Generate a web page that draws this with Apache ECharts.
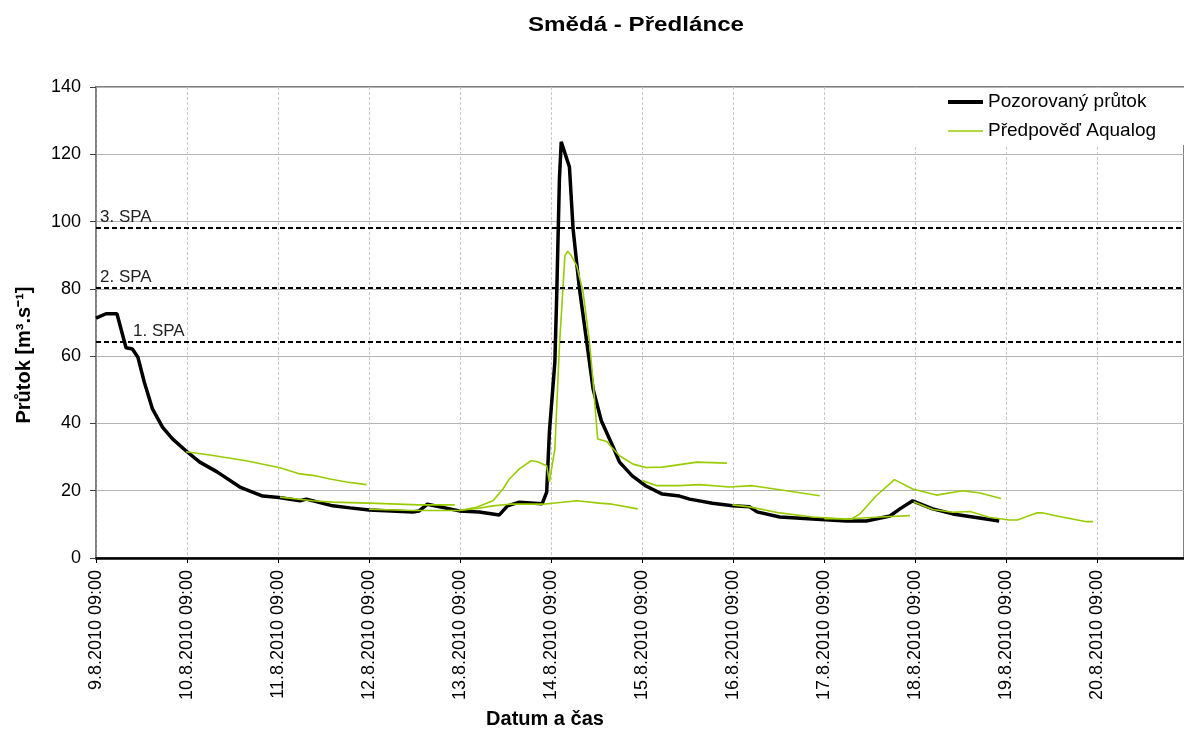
<!DOCTYPE html>
<html>
<head>
<meta charset="utf-8">
<script src="https://cdn.jsdelivr.net/npm/echarts@6/dist/echarts.min.js"></script>
<style>
html,body{margin:0;padding:0;background:#fff;}
#c{width:1184px;height:733px;}
</style>
</head>
<body>
<div id="c"></div>
<script>
// ---- texts ----
const titleText = 'Smědá - Předlánce';
const yAxisTitle = 'Průtok [m³.s⁻¹]';
const xAxisTitle = 'Datum a čas';
const seriesNames = ['Pozorovaný průtok', 'Předpověď Aqualog'];

// ---- x tick labels (one per day, x = days since 9.8.2010 09:00) ----
const dayLabels = ['9.8.2010 09:00','10.8.2010 09:00','11.8.2010 09:00','12.8.2010 09:00',
  '13.8.2010 09:00','14.8.2010 09:00','15.8.2010 09:00','16.8.2010 09:00',
  '17.8.2010 09:00','18.8.2010 09:00','19.8.2010 09:00','20.8.2010 09:00'];

// ---- observed discharge ----
const obsDays = [0.00,0.11,0.23,0.33,0.40,0.46,0.53,0.62,0.73,0.84,
  0.99,1.14,1.33,1.58,1.83,2.01,2.24,2.31,2.60,2.79,
  3.00,3.48,3.55,3.64,3.99,4.21,4.43,4.52,4.65,4.90,
  4.95,4.96,4.98,5.04,5.06,5.09,5.11,5.13,5.20,5.24,
  5.31,5.39,5.46,5.55,5.68,5.75,5.89,6.04,6.22,6.41,
  6.52,6.77,6.99,7.18,7.26,7.51,7.87,8.24,8.46,8.72,
  8.83,8.97,9.19,9.41,9.63,9.92];
const obsFlow = [71.3,72.6,72.6,62.5,62.1,59.7,52.3,44.3,38.9,35.4,
  31.8,28.5,25.6,21.1,18.4,18.0,17.0,17.5,15.5,14.9,
  14.3,13.7,14.0,16.0,14.0,13.7,12.8,15.5,16.6,16.1,
  19.6,25.6,37.5,58.3,77.9,112.7,123.7,123.7,116.2,97.8,
  80.0,64.2,50.2,40.8,33.0,28.5,24.4,21.4,19.0,18.4,
  17.5,16.3,15.5,15.2,13.7,12.2,11.6,11.0,11.0,12.5,
  14.6,17.0,14.6,13.1,12.2,11.0];

// ---- Aqualog forecast runs [day, flow] ----
const fcRun1 = [[0.99,31.6],[1.25,30.6],[1.65,28.9],[2.02,26.8],[2.24,25.0],[2.42,24.4],[2.57,23.5],[2.75,22.6],[2.97,21.8]];
const fcRun2 = [[2.02,18.1],[2.38,17.0],[2.60,16.6],[3.00,16.3],[3.55,15.8],[3.94,15.8]];
const fcRun3 = [[3.00,14.5],[3.48,14.1],[3.99,14.1],[4.18,15.1],[4.36,17.0],[4.47,20.5],[4.54,23.5],[4.65,26.5],[4.78,28.9],[4.85,28.6],[4.95,27.4],[4.98,22.6]];
const fcRun4 = [[3.99,14.1],[4.20,14.8],[4.36,15.5],[4.54,16.0],[4.91,16.0],[5.28,17.0],[5.53,16.3],[5.67,16.0],[5.95,14.6]];
const fcRun5 = [[4.98,22.6],[5.04,32.4],[5.09,63.0],[5.15,89.8],[5.18,91.2],[5.22,89.9],[5.28,86.9],[5.35,79.0],[5.42,64.2],[5.46,52.3],[5.51,35.4],[5.61,34.6],[5.66,33.0],[5.75,30.4],[5.90,27.9],[6.04,26.9],[6.22,27.0],[6.60,28.5],[6.93,28.2]];
const fcRun6 = [[6.00,23.0],[6.16,21.5],[6.41,21.5],[6.63,21.8],[6.96,21.1],[7.21,21.5],[7.51,20.3],[7.95,18.5]];
const fcRun7 = [[6.99,15.8],[7.18,15.2],[7.51,13.4],[7.87,12.2],[8.24,11.6],[8.61,12.2],[8.94,12.6]];
const fcRun8 = [[8.00,11.7],[8.30,11.6],[8.39,13.1],[8.57,18.5],[8.77,23.3],[8.97,20.5],[9.23,18.7],[9.52,20.0],[9.71,19.3],[9.94,17.7]];
const fcRun9 = [[8.98,16.7],[9.19,14.4],[9.41,13.6],[9.60,13.8],[9.81,12.1],[10.03,11.3],[10.12,11.3],[10.33,13.4],[10.40,13.4],[10.62,12.1],[10.88,10.8],[10.95,10.8]];
const forecastRuns = [fcRun1, fcRun2, fcRun3, fcRun4, fcRun5, fcRun6, fcRun7, fcRun8, fcRun9];

// ---- flood alert levels ----
const spaNames = ['1. SPA', '2. SPA', '3. SPA'];
const spaLevels = [64.4, 80.2, 98.2];
const spaLabelShift = [37, 4, 4];

// ---- axes ----
const yMin = 0, yMax = 140, yStep = 20;
const xMin = 0, xMax = 11.95, xStep = 1;

const FONT = "'Liberation Sans', Arial, sans-serif";
const chart = echarts.init(document.getElementById('c'), null, {renderer: 'canvas'});

const obsData = obsDays.map((d, i) => [d, obsFlow[i]]);

const series = [{
  name: seriesNames[0],
  type: 'line',
  data: obsData,
  symbol: 'none',
  showSymbol: false,
  lineStyle: {color: '#000', width: 3.5},
  itemStyle: {color: '#000'},
  z: 3,
  markLine: {
    silent: true,
    symbol: 'none',
    animation: false,
    lineStyle: {color: '#000', type: [5, 3], width: 2},
    data: spaLevels.map((v, i) => ({
      yAxis: v,
      name: spaNames[i],
      label: {
        show: true,
        formatter: spaNames[i],
        position: 'insideStartTop',
        distance: [spaLabelShift[i], 2],
        color: '#222',
        fontSize: 17,
        fontFamily: FONT
      }
    }))
  }
}];
forecastRuns.forEach(run => {
  series.push({
    name: seriesNames[1],
    type: 'line',
    data: run,
    symbol: 'none',
    showSymbol: false,
    lineStyle: {color: '#99cc00', width: 1.6},
    itemStyle: {color: '#99cc00'},
    z: 4
  });
});

const option = {
  animation: false,
  backgroundColor: '#fff',
  textStyle: {fontFamily: FONT},
  grid: {left: 96, right: 0, top: 87, bottom: 175, show: true, borderColor: '#808080', borderWidth: 2, containLabel: false},
  legend: {
    data: [
      {name: seriesNames[0], icon: 'path://M0 0H35V4H0Z'},
      {name: seriesNames[1], icon: 'path://M0 0H35V1.3H0Z'}
    ],
    symbolKeepAspect: true,
    orient: 'vertical',
    left: 905,
    top: 88,
    padding: [3, 40, 3, 43],
    backgroundColor: '#fff',
    itemWidth: 35,
    itemHeight: 14,
    itemGap: 7,
    textStyle: {fontSize: 19, color: '#000', fontFamily: FONT, lineHeight: 22},
    z: 10
  },
  xAxis: {
    type: 'value',
    min: xMin, max: xMax, interval: xStep,
    axisLine: {show: true, onZero: false, lineStyle: {color: '#000', width: 2.5}},
    axisTick: {show: true, length: 5, lineStyle: {color: '#000', width: 1}},
    axisLabel: {
      rotate: 90, margin: 12, fontSize: 18, color: '#000', fontFamily: FONT,
      formatter: v => {
        const r = Math.round(v);
        return Math.abs(v - r) < 1e-6 && dayLabels[r] ? dayLabels[r] : '';
      }
    },
    splitLine: {show: true, lineStyle: {color: '#c8c8c8', type: [3, 2], width: 1}}
  },
  yAxis: {
    type: 'value',
    min: yMin, max: yMax, interval: yStep,
    axisLine: {show: true, lineStyle: {color: '#808080', width: 1.5}},
    axisTick: {show: true, length: 6, lineStyle: {color: '#404040'}},
    axisLabel: {fontSize: 18, color: '#000', margin: 15, fontFamily: FONT},
    splitLine: {show: true, lineStyle: {color: '#b4b4b4', width: 1}}
  },
  graphic: [
    {type: 'text', x: 636, y: 25, scaleX: 1.15, style: {text: titleText, font: 'bold 21px ' + FONT, fill: '#000', align: 'center', verticalAlign: 'middle'}},
    {type: 'text', x: 24, y: 355, rotation: Math.PI / 2, style: {text: yAxisTitle, font: 'bold 20px ' + FONT, fill: '#000', align: 'center', verticalAlign: 'middle'}},
    {type: 'text', x: 545, y: 719, style: {text: xAxisTitle, font: 'bold 20px ' + FONT, fill: '#000', align: 'center', verticalAlign: 'middle'}}
  ],
  series: series
};
chart.setOption(option);
</script>
</body>
</html>
